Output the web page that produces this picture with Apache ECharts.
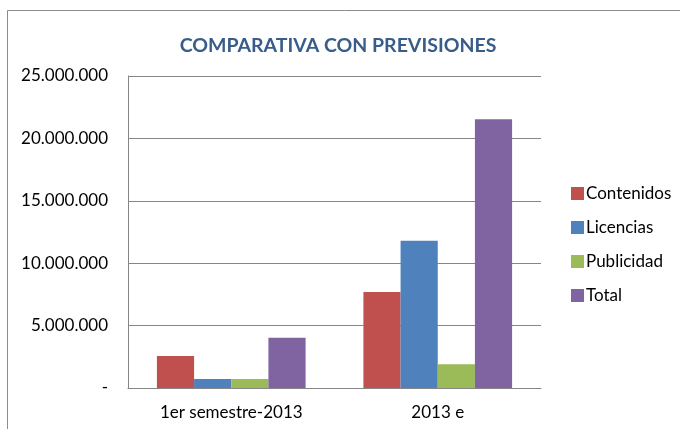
<!DOCTYPE html>
<html>
<head>
<meta charset="utf-8">
<script src="https://cdn.jsdelivr.net/npm/echarts@6/dist/echarts.min.js"></script>
<style>
    html, body { margin: 0; padding: 0; background: #fff; }
    #main { width: 680px; height: 429px; }
</style>
</head>
<body>
<div id="main"></div>
<script>
//数据
var categories = ['1er semestre-2013', '2013 e'];
var seriesNames = ['Contenidos', 'Licencias', 'Publicidad', 'Total'];
var contenidos = [2560000, 7690000];
var licencias = [720000, 11800000];
var publicidad = [720000, 1900000];
var total = [4030000, 21530000];
var colors = ['#C0504D', '#4F81BD', '#9BBB59', '#8064A2'];

var font = 'Lato, "Open Sans", sans-serif';

function fmt(v) {
    if (v === 0) return '-';
    return String(v).replace(/\B(?=(\d{3})+(?!\d))/g, '.');
}

var chart = document.getElementById('main');
var echart = echarts.init(chart);

var values = [contenidos, licencias, publicidad, total];
var series = [];
for (let i = 0; i < seriesNames.length; i++) {
    series.push({
        name: seriesNames[i],
        type: 'bar',
        data: values[i],
        barGap: '0%',
        barCategoryGap: '28%',
        itemStyle: {color: colors[i]}
    });
}

let option = {
    animation: false,
    color: colors,
    title: {
        text: 'COMPARATIVA CON PREVISIONES',
        left: 333,
        top: 31,
        textAlign: 'center',
        textStyle: {
            color: '#385D8A',
            fontSize: 19.5,
            fontWeight: 'bold',
            fontFamily: font
        }
    },
    graphic: [
        {
            type: 'rect',
            shape: {x: 7.5, y: 10.5, width: 700, height: 450},
            style: {fill: 'none', stroke: '#8c8c8c', lineWidth: 1},
            silent: true
        }
    ],
    legend: {
        orient: 'vertical',
        left: 571,
        top: 185,
        padding: 0,
        itemWidth: 13,
        itemHeight: 13,
        itemGap: 17,
        icon: 'rect',
        textStyle: {fontSize: 17, lineHeight: 17, color: '#000', fontFamily: font, padding: [0, 0, 0, -3]},
        data: seriesNames
    },
    grid: {
        left: 128,
        right: 139,
        top: 76,
        bottom: 41,
        containLabel: false
    },
    xAxis: [
        {
            type: 'category',
            data: categories,
            axisLine: {lineStyle: {color: '#868686', width: 1}},
            axisTick: {show: false},
            axisLabel: {fontSize: 17, color: '#000', fontFamily: font, margin: 16}
        }
    ],
    yAxis: [
        {
            type: 'value',
            min: 0,
            max: 25000000,
            interval: 5000000,
            axisLine: {show: true, lineStyle: {color: '#868686', width: 1}},
            axisTick: {show: false},
            splitLine: {lineStyle: {color: '#868686', width: 1}},
            axisLabel: {
                fontSize: 17,
                color: '#000',
                fontFamily: font,
                margin: 20,
                formatter: fmt
            }
        }
    ],
    series: series
};
echart.setOption(option);
</script>
</body>
</html>
